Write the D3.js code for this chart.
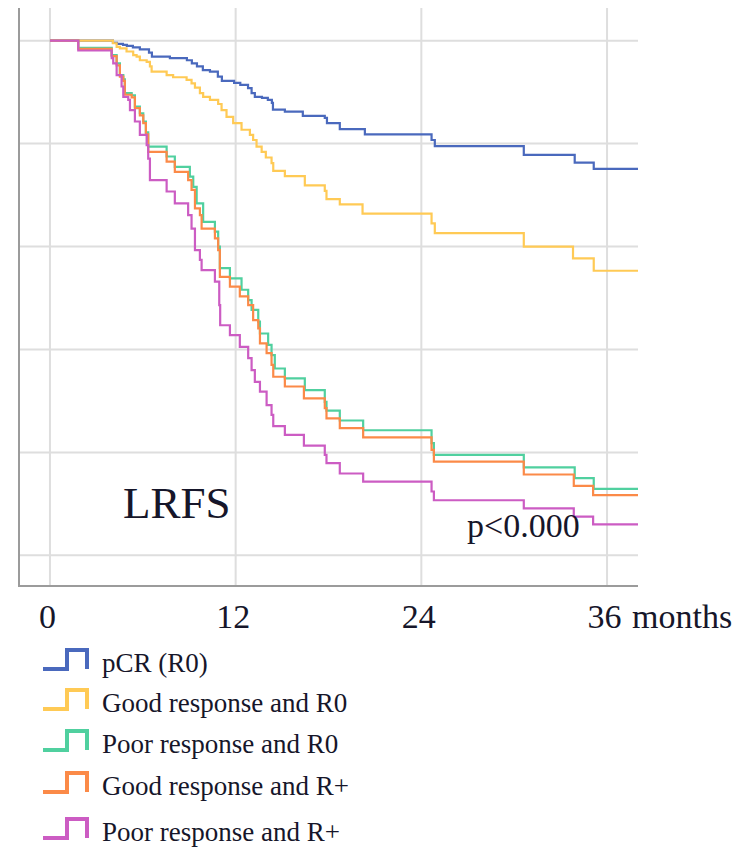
<!DOCTYPE html>
<html>
<head>
<meta charset="utf-8">
<script src="https://cdn.jsdelivr.net/npm/d3@7"></script>
<style>
  html, body { margin: 0; padding: 0; background: #fff; }
  svg { display: block; }
  text { font-family: "Liberation Serif", "Times New Roman", serif; fill: #16162a; }
</style>
</head>
<body>
<svg id="chart" width="753" height="850"></svg>
<script>
// Local recurrence-free survival by response group: [month, survival] at each drop
const groupNames = [
  "pCR (R0)",
  "Good response and R0",
  "Poor response and R0",
  "Good response and R+",
  "Poor response and R+"
];
const groupColors = ["#4a69bd", "#ffca55", "#50d09f", "#fb8a48", "#cc5cc3"];

const pcrSteps = [
  [4.07, 0.996], [4.33, 0.994], [4.72, 0.992], [4.97, 0.990], [5.36, 0.987],
  [5.81, 0.983], [6.40, 0.977], [6.59, 0.969], [7.75, 0.966], [8.85, 0.962],
  [9.17, 0.956], [9.50, 0.950], [9.88, 0.943], [10.34, 0.940], [10.85, 0.930],
  [11.11, 0.922], [11.90, 0.918], [12.30, 0.914], [12.80, 0.908], [13.03, 0.898],
  [13.24, 0.891], [13.70, 0.889], [14.08, 0.885], [14.34, 0.879], [14.41, 0.866],
  [15.18, 0.862], [16.34, 0.854], [17.76, 0.850], [17.90, 0.840], [18.73, 0.828],
  [20.35, 0.818], [24.66, 0.807], [24.87, 0.795], [30.62, 0.778], [33.91, 0.763],
  [35.14, 0.751]
];
const goodR0Steps = [
  [4.07, 0.995], [4.31, 0.988], [4.52, 0.985], [4.95, 0.979], [5.38, 0.972],
  [5.60, 0.969], [5.81, 0.962], [6.25, 0.959], [6.46, 0.950], [6.57, 0.940],
  [7.54, 0.933], [7.96, 0.929], [8.83, 0.924], [9.15, 0.917], [9.37, 0.909],
  [9.69, 0.898], [9.90, 0.891], [10.34, 0.885], [10.87, 0.877], [11.09, 0.865],
  [11.41, 0.852], [11.84, 0.840], [12.38, 0.827], [12.92, 0.817], [13.13, 0.807],
  [13.35, 0.794], [13.68, 0.784], [13.95, 0.773], [14.32, 0.762], [14.43, 0.747],
  [15.18, 0.737], [16.47, 0.719], [17.76, 0.708], [17.87, 0.692], [18.73, 0.682],
  [20.20, 0.664], [24.66, 0.645], [24.87, 0.626], [30.62, 0.600], [33.80, 0.577],
  [35.14, 0.553]
];
const poorR0Steps = [
  [1.83, 0.986], [3.99, 0.972], [4.31, 0.956], [4.52, 0.933], [4.74, 0.925],
  [4.84, 0.898], [5.28, 0.894], [5.49, 0.872], [5.81, 0.859], [6.03, 0.843],
  [6.20, 0.822], [6.35, 0.794], [7.54, 0.775], [8.07, 0.755], [9.04, 0.736],
  [9.26, 0.716], [9.48, 0.684], [9.90, 0.648], [10.66, 0.629], [10.87, 0.600],
  [10.98, 0.558], [11.63, 0.538], [12.38, 0.516], [12.81, 0.496], [13.03, 0.477],
  [13.46, 0.454], [13.57, 0.431], [14.10, 0.409], [14.32, 0.389], [14.53, 0.363],
  [15.18, 0.344], [16.47, 0.321], [17.76, 0.298], [17.87, 0.281], [18.73, 0.262],
  [20.24, 0.243], [24.66, 0.218], [24.81, 0.195], [30.62, 0.171], [33.91, 0.150],
  [35.14, 0.129]
];
const goodRplusSteps = [
  [1.83, 0.984], [3.99, 0.970], [4.31, 0.952], [4.52, 0.930], [4.74, 0.922],
  [4.84, 0.895], [5.28, 0.890], [5.49, 0.869], [5.81, 0.855], [6.03, 0.840],
  [6.20, 0.818], [6.35, 0.784], [7.54, 0.765], [8.07, 0.745], [8.93, 0.729],
  [9.15, 0.710], [9.37, 0.674], [9.69, 0.661], [9.80, 0.635], [10.66, 0.616],
  [10.87, 0.593], [10.98, 0.541], [11.63, 0.522], [12.27, 0.503], [12.81, 0.486],
  [13.13, 0.457], [13.46, 0.441], [13.57, 0.412], [14.00, 0.393], [14.32, 0.370],
  [14.43, 0.347], [15.18, 0.328], [16.41, 0.305], [17.76, 0.286], [17.87, 0.266],
  [18.73, 0.247], [20.24, 0.229], [24.66, 0.205], [24.81, 0.182], [30.62, 0.157],
  [33.85, 0.135], [35.10, 0.117]
];
const poorRplusSteps = [
  [1.83, 0.981], [3.99, 0.966], [4.09, 0.956], [4.31, 0.933], [4.63, 0.911],
  [4.74, 0.891], [5.06, 0.885], [5.17, 0.865], [5.49, 0.843], [5.81, 0.817],
  [6.25, 0.797], [6.35, 0.771], [6.46, 0.729], [7.54, 0.707], [8.07, 0.684],
  [8.93, 0.661], [9.15, 0.635], [9.37, 0.593], [9.69, 0.574], [9.80, 0.554],
  [10.66, 0.532], [10.94, 0.486], [11.00, 0.447], [11.63, 0.428], [12.27, 0.405],
  [12.81, 0.383], [13.03, 0.360], [13.24, 0.337], [13.57, 0.318], [14.00, 0.292],
  [14.32, 0.273], [14.43, 0.251], [15.18, 0.234], [16.41, 0.213], [17.76, 0.195],
  [17.87, 0.179], [18.73, 0.159], [20.24, 0.143], [24.66, 0.124], [24.81, 0.107],
  [30.62, 0.091], [33.85, 0.075], [35.10, 0.060]
];
const groupSteps = [pcrSteps, goodR0Steps, poorR0Steps, goodRplusSteps, poorRplusSteps];

const monthTicks = [0, 12, 24, 36];
const survivalGrid = [0, 0.2, 0.4, 0.6, 0.8, 1.0];
const endpointLabel = "LRFS";
const pValueLabel = "p<0.000";
const timeUnitLabel = "months";

// ---- layout ----
const frame = { left: 19, right: 638, top: 8, bottom: 586 };
const maxMonth = 38;

const svg = d3.select("#chart");
svg.append("rect").attr("width", 753).attr("height", 850).attr("fill", "#fff");

const x = d3.scaleLinear().domain([-2, maxMonth]).range([frame.left, frame.right]);
const y = d3.scaleLinear().domain([0, 1]).range([555.3, 40.7]);

// grid
const grid = svg.append("g").attr("stroke", "#dedede").attr("stroke-width", 2);
grid.selectAll("line.h").data(survivalGrid).join("line")
  .attr("class", "h")
  .attr("x1", frame.left).attr("x2", frame.right)
  .attr("y1", d => y(d)).attr("y2", d => y(d));
grid.selectAll("line.v").data(monthTicks).join("line")
  .attr("class", "v")
  .attr("x1", d => x(d)).attr("x2", d => x(d))
  .attr("y1", frame.top).attr("y2", frame.bottom);

// axis frame (left and bottom)
svg.append("path")
  .attr("d", `M${frame.left},${frame.top}V${frame.bottom}H${frame.right}`)
  .attr("fill", "none").attr("stroke", "#9b9b9b").attr("stroke-width", 2);

// month tick labels
const xAxis = svg.append("g")
  .attr("transform", `translate(0,628)`)
  .call(d3.axisBottom(x).tickValues(monthTicks).tickSize(0).tickPadding(0).tickFormat(d3.format("d")));
xAxis.select(".domain").remove();
xAxis.selectAll("text")
  .attr("y", 0).attr("dy", 0).attr("dx", -3)
  .attr("font-size", 34)
  .attr("font-family", "'Liberation Serif', 'Times New Roman', serif")
  .attr("fill", "#16162a");

svg.append("text").attr("x", 632).attr("y", 628)
  .attr("font-size", 34).text(timeUnitLabel);

// survival curves
const line = d3.line()
  .x(d => x(d[0]))
  .y(d => y(d[1]))
  .curve(d3.curveStepAfter);

const curves = groupSteps.map(steps => {
  const pts = [[0, 1], ...steps];
  pts.push([maxMonth, steps[steps.length - 1][1]]);
  return pts;
});

svg.append("g").selectAll("path").data(curves).join("path")
  .attr("d", line)
  .attr("fill", "none")
  .attr("stroke", (d, i) => groupColors[i])
  .attr("stroke-width", 2.2)
  .attr("stroke-linejoin", "miter");

// annotations
svg.append("text").attr("x", 123).attr("y", 518)
  .attr("font-size", 45).text(endpointLabel);
svg.append("text").attr("x", 467).attr("y", 537)
  .attr("font-size", 34).text(pValueLabel);

// legend
const legendBaselines = [672, 712, 753, 795, 841];
const legend = svg.append("g");
groupNames.forEach((name, i) => {
  const b = legendBaselines[i];
  legend.append("path")
    .attr("d", `M43,${b - 3}H67V${b - 22}H87V${b - 3}`)
    .attr("fill", "none")
    .attr("stroke", groupColors[i])
    .attr("stroke-width", 4);
  legend.append("text")
    .attr("x", 102).attr("y", b)
    .attr("font-size", 27)
    .text(name);
});
</script>
</body>
</html>
